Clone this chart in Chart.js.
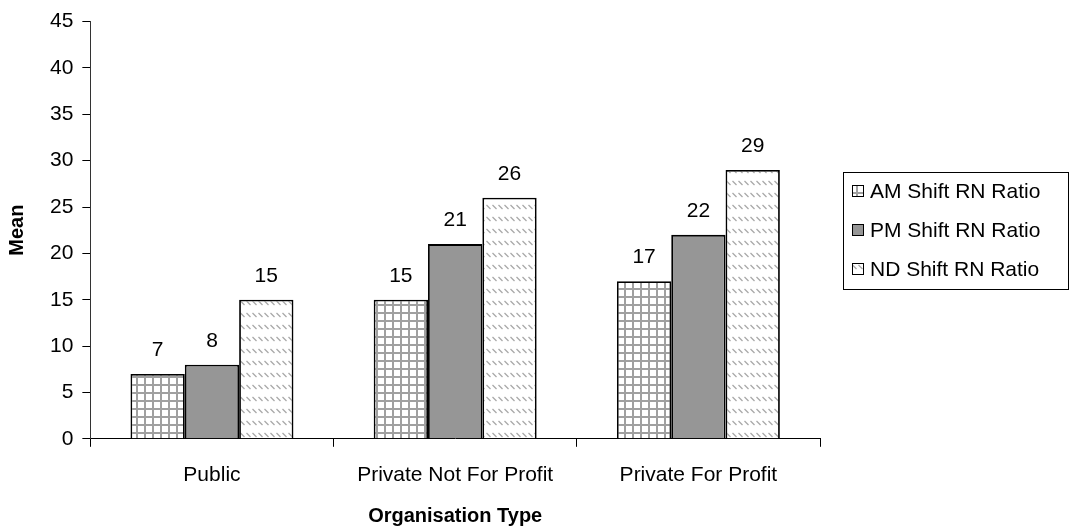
<!DOCTYPE html>
<html>
<head>
<meta charset="utf-8">
<script src="https://cdn.jsdelivr.net/npm/chart.js@4.4.0/dist/chart.umd.min.js"></script>
<style>
  html, body { margin: 0; padding: 0; background: #fff; }
  #wrap { width: 1075px; height: 529px; }
</style>
</head>
<body>
<div id="wrap"><canvas id="chart"></canvas></div>
<script>
// values
const categories = ['Public', 'Private Not For Profit', 'Private For Profit'];
const amShift = [7, 15, 17];
const pmShift = [8, 21, 22];
const ndShift = [15, 26, 29];
const yTicks = [0, 5, 10, 15, 20, 25, 30, 35, 40, 45];

const font = '"Liberation Sans", Arial, sans-serif';

// small canvas tiles used as fill patterns, like the old Excel hatches
function makePattern(w, h, draw) {
    const c = document.createElement('canvas');
    c.width = w;
    c.height = h;
    const g = c.getContext('2d');
    g.fillStyle = '#ffffff';
    g.fillRect(0, 0, w, h);
    draw(g);
    return c.getContext('2d').createPattern(c, 'repeat');
}

const gridFill = makePattern(8, 8, g => {
    g.fillStyle = '#a0a0a0';
    g.fillRect(0, 0, 8, 2);
    g.fillRect(0, 0, 2, 8);
});

const diagFill = makePattern(6, 12, g => {
    g.strokeStyle = '#a8a8a8';
    g.lineWidth = 1.3;
    g.beginPath();
    g.moveTo(0.5, 1);
    g.lineTo(4.5, 5);
    g.stroke();
});

// numbers above the bars
const barLabels = {
    id: 'barLabels',
    afterDatasetsDraw(chart) {
        const ctx = chart.ctx;
        ctx.save();
        ctx.font = '21px ' + font;
        ctx.fillStyle = '#000';
        ctx.textAlign = 'center';
        ctx.textBaseline = 'bottom';
        chart.data.datasets.forEach((ds, i) => {
            chart.getDatasetMeta(i).data.forEach((bar, j) => {
                ctx.fillText(ds.data[j], bar.x, bar.y - 13);
            });
        });
        ctx.restore();
    }
};

// legend drawn by hand so it can sit in a framed box beside the plot
const boxLegend = {
    id: 'boxLegend',
    afterDraw(chart) {
        const ctx = chart.ctx;
        const area = chart.chartArea;
        const rowH = 39;
        const n = chart.data.datasets.length;
        const boxW = 225;
        const boxH = rowH * n;
        const left = area.right + 23;
        const top = (area.top + area.bottom) / 2 - boxH / 2;
        ctx.save();
        ctx.strokeStyle = '#000';
        ctx.lineWidth = 1;
        ctx.strokeRect(Math.round(left) + 0.5, Math.round(top) + 0.5, boxW, boxH);
        ctx.font = '21px ' + font;
        ctx.textBaseline = 'middle';
        chart.data.datasets.forEach((ds, i) => {
            const cy = top + rowH / 2 + i * rowH;
            const sx = Math.round(left + 9) + 0.5;
            const sy = Math.round(cy - 6) + 0.5;
            ctx.fillStyle = ds.backgroundColor;
            ctx.fillRect(sx, sy, 11, 11);
            ctx.strokeStyle = '#000';
            ctx.strokeRect(sx, sy, 11, 11);
            ctx.fillStyle = '#000';
            ctx.fillText(ds.label, left + 27, cy + 1);
        });
        ctx.restore();
    }
};

new Chart(document.getElementById('chart'), {
    type: 'bar',
    data: {
        labels: categories,
        datasets: [
            { label: 'AM Shift RN Ratio', data: amShift, backgroundColor: gridFill },
            { label: 'PM Shift RN Ratio', data: pmShift, backgroundColor: '#969696' },
            { label: 'ND Shift RN Ratio', data: ndShift, backgroundColor: diagFill }
        ]
    },
    options: {
        responsive: true,
        maintainAspectRatio: false,
        animation: false,
        layout: { padding: { top: 9, right: 255, bottom: 0, left: 1 } },
        datasets: {
            bar: {
                borderColor: '#000',
                borderWidth: 1.8,
                barPercentage: 1,
                categoryPercentage: 0.67
            }
        },
        plugins: {
            legend: { display: false },
            tooltip: { enabled: false }
        },
        scales: {
            x: {
                grid: { drawOnChartArea: false, color: '#000', tickLength: 8 },
                border: { color: '#000', width: 1 },
                ticks: { font: { family: font, size: 21 }, color: '#000', padding: 16 },
                title: {
                    display: true,
                    text: 'Organisation Type',
                    font: { family: font, size: 20, weight: 'bold' },
                    color: '#000',
                    padding: { top: 0, bottom: 1 }
                }
            },
            y: {
                min: 0,
                max: 45,
                afterBuildTicks: axis => { axis.ticks = yTicks.map(v => ({ value: v })); },
                grid: { drawOnChartArea: false, color: '#000', tickLength: 8 },
                border: { color: '#333', width: 1 },
                ticks: { font: { family: font, size: 21 }, color: '#000', padding: 9 },
                title: {
                    display: true,
                    text: 'Mean',
                    font: { family: font, size: 20, weight: 'bold' },
                    color: '#000',
                    padding: { bottom: 12 }
                }
            }
        }
    },
    plugins: [barLabels, boxLegend]
});
</script>
</body>
</html>
